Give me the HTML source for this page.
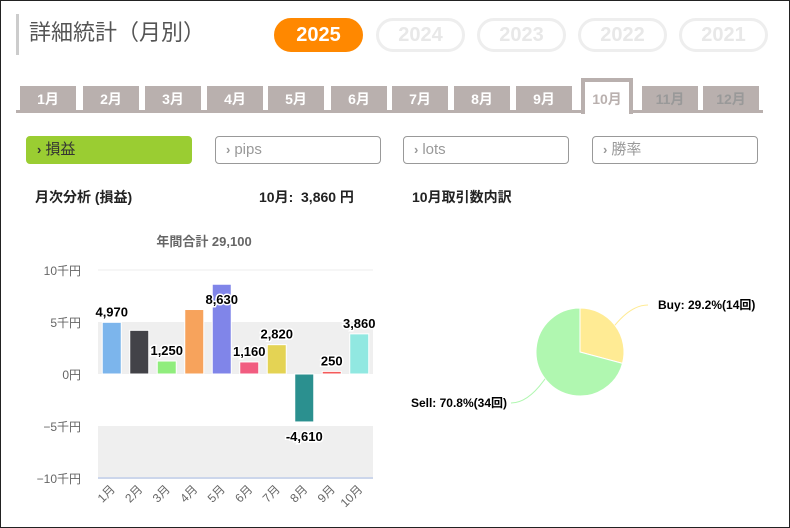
<!DOCTYPE html>
<html><head><meta charset="utf-8">
<style>
*{box-sizing:border-box;margin:0;padding:0}
body{width:790px;height:528px;overflow:hidden;background:#fff;font-family:"Liberation Sans","Noto Sans CJK JP",sans-serif;position:relative}
.frame{position:absolute;left:0;top:0;width:790px;height:528px;border:1px solid #222}
.abs{position:absolute}
.title{left:16px;top:14px;height:41px;border-left:3px solid #ccc;padding-left:10px;font-size:22px;color:#555;line-height:38px}
.pill{position:absolute;top:18px;height:34px;width:89px;border-radius:17px;border:3px solid #eee;color:#e8e8e8;font-weight:bold;font-size:20px;text-align:center;line-height:28px}
.pill.on{background:#ff8800;border-color:#ff8800;color:#fff}
.tab{position:absolute;top:86px;height:24px;width:56px;background:#b9b0ae;color:#fff;font-weight:bold;font-size:14px;text-align:center;line-height:26px}
.tab.dim{color:#999}
.tab.on{top:78px;height:36px;background:#fff;border:4px solid #b9b0ae;border-bottom:none;color:#b9b0ae;line-height:34px;width:52px}
.btn{position:absolute;top:136px;height:28px;width:166px;border:1px solid #999;border-radius:4px;color:#999;font-size:15px;line-height:26px;padding-left:10px}
.btn.on{background:#9acd32;border-color:#9acd32;color:#333}
.btn b{font-size:13px;margin-right:4px}
.hdr{font-weight:bold;font-size:14px;color:#222}
</style></head><body>
<div class="frame"></div>
<div class="abs title">詳細統計（月別）</div>
<div class="pill on" style="left:274px">2025</div>
<div class="pill" style="left:376px">2024</div>
<div class="pill" style="left:477px">2023</div>
<div class="pill" style="left:578px">2022</div>
<div class="pill" style="left:679px">2021</div>
<div class="abs" style="left:16px;top:110px;width:747px;height:3px;background:#b9b0ae"></div>
<div class="tab" style="left:20px">1月</div>
<div class="tab" style="left:83px">2月</div>
<div class="tab" style="left:145px">3月</div>
<div class="tab" style="left:207px">4月</div>
<div class="tab" style="left:268px">5月</div>
<div class="tab" style="left:331px">6月</div>
<div class="tab" style="left:392px">7月</div>
<div class="tab" style="left:454px">8月</div>
<div class="tab" style="left:516px">9月</div>
<div class="tab on" style="left:581px">10月</div>
<div class="tab dim" style="left:642px">11月</div>
<div class="tab dim" style="left:703px">12月</div>
<div class="btn on" style="left:26px"><b>›</b>損益</div>
<div class="btn" style="left:215px"><b>›</b>pips</div>
<div class="btn" style="left:403px"><b>›</b>lots</div>
<div class="btn" style="left:592px"><b>›</b>勝率</div>
<div class="abs hdr" style="left:35px;top:187px">月次分析 (損益)</div>
<div class="abs hdr" style="left:259px;top:187px">10月:&nbsp; 3,860 円</div>
<div class="abs hdr" style="left:412px;top:187px">10月取引数内訳</div>
<svg id="chart" class="abs" style="left:0;top:0" width="790" height="528"></svg>
<script>
const months=["1月","2月","3月","4月","5月","6月","7月","8月","9月","10月"];
const values=[4970,4200,1250,6200,8630,1160,2820,-4610,250,3860];
const labels=["4,970","","1,250","","8,630","1,160","2,820","-4,610","250","3,860"];
const colors=["#7cb5ec","#434348","#90ed7d","#f7a35c","#8085e9","#f15c80","#e4d354","#2b908f","#f45b5b","#91e8e1"];
const yTicks=[10000,5000,0,-5000,-10000];
const yTickLabels=["10千円","5千円","0円","−5千円","−10千円"];
const pieNames=["Buy","Sell"];
const pieCounts=[14,34];
const piePct=["29.2%","70.8%"];
const pieColors=["#ffeb94","#b0f7b0"];
const NS="http://www.w3.org/2000/svg";
const svg=document.getElementById('chart');
function mk(t,a,txt){const e=document.createElementNS(NS,t);for(const k in a)e.setAttribute(k,a[k]);if(txt!=null)e.textContent=txt;svg.appendChild(e);return e;}
const X0=98,X1=373,slot=(X1-X0)/months.length;
const y=v=>374-v*52/5000;
const xc=i=>X0+slot*(i+0.5);
let e=mk('rect',{x:X0,y:y(5000),width:X1-X0,height:y(0)-y(5000),fill:'#efefef'});


e=mk('rect',{x:X0,y:y(-5000),width:X1-X0,height:y(-10000)-y(-5000),fill:'#efefef'});


e=mk('line',{x1:X0,x2:X1,y1:y(10000),y2:y(10000),stroke:'#eee','stroke-width':1});


e=mk('line',{x1:X0,x2:X1,y1:y(-10000),y2:y(-10000),stroke:'#ccd6eb','stroke-width':2});


e=mk('text',{x:204,y:246,'text-anchor':'middle','font-size':13,'font-weight':'bold',fill:'#666'},"年間合計 29,100");


yTicks.forEach((t,i)=>{const el=mk('text',{x:81,y:y(t)+5,'text-anchor':'end','font-size':12,fill:'#666'},yTickLabels[i]);

});
values.forEach((v,i)=>{const w=19;const top=Math.min(y(v),y(0)),h=Math.abs(y(v)-y(0));
const r=mk('rect',{x:xc(i)-w/2,y:top,width:w,height:Math.max(h,1),fill:colors[i],stroke:'#fff','stroke-width':1});


if(labels[i]){let ly=v>=0?y(v)-6:y(v)+19;if(ly<304)ly=304;
const tx=mk('text',{x:xc(i),y:ly,'text-anchor':'middle','font-size':13,'font-weight':'bold',fill:'#000',stroke:'#fff','stroke-width':3,'paint-order':'stroke'},labels[i]);

}
const lx=mk('text',{x:xc(i)+4,y:490,'text-anchor':'end','font-size':12,fill:'#666',transform:`rotate(-45 ${xc(i)+4} 490)`},months[i]);

});
const cx=580,cy=352,R=44,tot=pieCounts.reduce((a,b)=>a+b,0);
let a0=-Math.PI/2;
pieCounts.forEach((c,i)=>{const a1=a0+c/tot*2*Math.PI;const large=(a1-a0)>Math.PI?1:0;
const p=mk('path',{d:`M${cx},${cy} L${cx+R*Math.cos(a0)},${cy+R*Math.sin(a0)} A${R},${R} 0 ${large} 1 ${cx+R*Math.cos(a1)},${cy+R*Math.sin(a1)} Z`,fill:pieColors[i],stroke:'#fff','stroke-width':1});


const am=(a0+a1)/2,ex=cx+R*Math.cos(am),ey=cy+R*Math.sin(am);
const right=Math.cos(am)>0;const lx=right?648:511,ly=right?305:403;
const ln=mk('path',{d:`M${ex},${ey} Q${(ex+lx)/2},${ly} ${lx},${ly}`,fill:'none',stroke:pieColors[i],'stroke-width':1});


const t=mk('text',{x:right?lx+10:lx-4,y:ly+4,'text-anchor':right?'start':'end','font-size':12,'font-weight':'bold',fill:'#000'},`${pieNames[i]}: ${piePct[i]}(${c}回)`);


a0=a1;});
</script>
</body></html>
